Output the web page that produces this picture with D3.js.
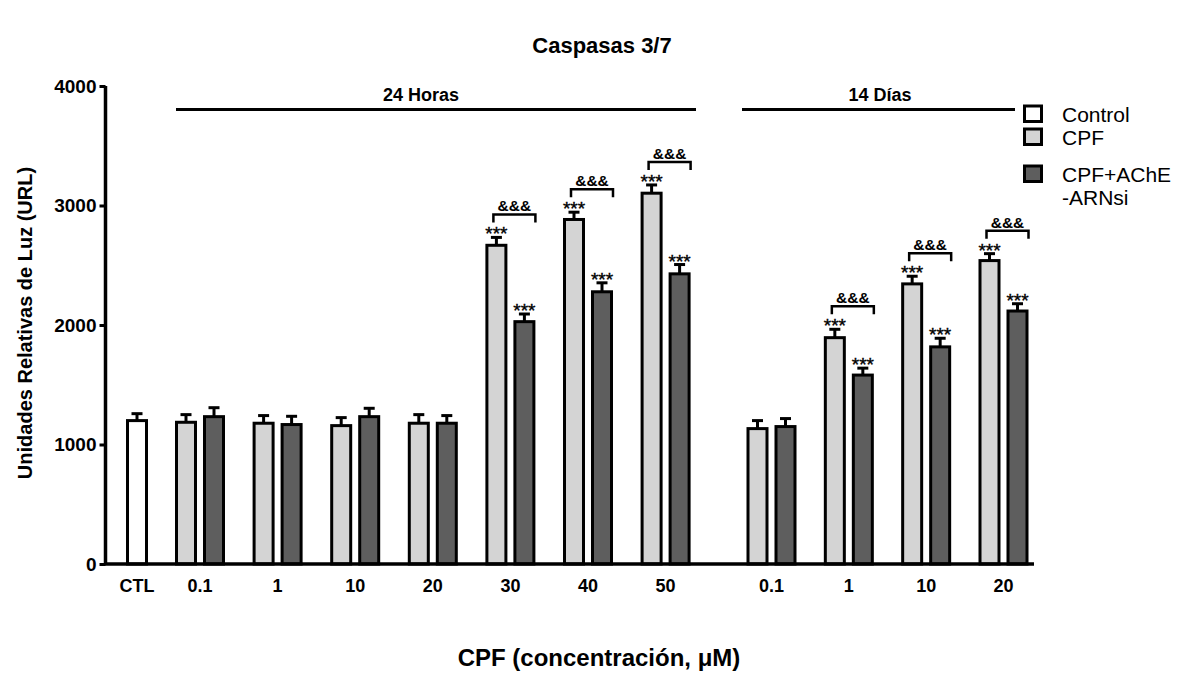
<!DOCTYPE html>
<html>
<head>
<meta charset="utf-8">
<script src="https://cdn.jsdelivr.net/npm/d3@7/dist/d3.min.js"></script>
<style>
  html, body { margin: 0; padding: 0; background: #fff; }
  svg { display: block; }
  text { font-family: Arial, "Liberation Sans", sans-serif; fill: #000; }
</style>
</head>
<body>
<svg id="chart" width="1189" height="680"></svg>
<script>
// Caspasas 3/7 activity (relative light units), mean and SEM
const ctlLabel = "CTL";
const ctlValue = 1200;
const ctlErr = 58;

const horas24 = ["0.1", "1", "10", "20", "30", "40", "50"];
const cpf24 = [1186, 1178, 1158, 1178, 2667, 2883, 3103];
const cpf24Err = [64, 64, 67, 72, 66, 61, 69];
const arnsi24 = [1233, 1167, 1233, 1178, 2028, 2278, 2428];
const arnsi24Err = [75, 69, 70, 64, 64, 75, 78];
const sig24 = [false, false, false, false, true, true, true];

const dias14 = ["0.1", "1", "10", "20"];
const cpf14 = [1133, 1894, 2344, 2539];
const cpf14Err = [67, 70, 64, 58];
const arnsi14 = [1150, 1581, 1817, 2117];
const arnsi14Err = [67, 58, 72, 61];
const sig14 = [false, true, true, true];

const yTicks = [0, 1000, 2000, 3000, 4000];
const legendLabels = [["Control"], ["CPF"], ["CPF+AChE", "-ARNsi"]];
const fills = { control: "#ffffff", cpf: "#d4d4d4", arnsi: "#5e5e5e" };

const svg = d3.select("#chart");

const y = d3.scaleLinear().domain([0, 4000]).range([564, 86]);
const x24 = d3.scalePoint().domain(horas24).range([200, 665.6]);
const x14 = d3.scalePoint().domain(dias14).range([771.5, 1003.5]);
const ctlX = x24(horas24[0]) - 63;
const half = 14;   // offset of each bar from its group centre
const barW = 19;

// assemble bar records
const bars = [{ cx: ctlX, v: ctlValue, e: ctlErr, fill: fills.control, star: false }];
const groups = [];
horas24.forEach((k, i) => {
  const g = x24(k);
  bars.push({ cx: g - half, v: cpf24[i], e: cpf24Err[i], fill: fills.cpf, star: sig24[i] });
  bars.push({ cx: g + half, v: arnsi24[i], e: arnsi24Err[i], fill: fills.arnsi, star: sig24[i] });
  groups.push({ label: k, cx: g, sig: sig24[i], top: cpf24[i] + cpf24Err[i] });
});
dias14.forEach((k, i) => {
  const g = x14(k);
  bars.push({ cx: g - half, v: cpf14[i], e: cpf14Err[i], fill: fills.cpf, star: sig14[i] });
  bars.push({ cx: g + half, v: arnsi14[i], e: arnsi14Err[i], fill: fills.arnsi, star: sig14[i] });
  groups.push({ label: k, cx: g, sig: sig14[i], top: cpf14[i] + cpf14Err[i] });
});

// title
svg.append("text").attr("x", 602).attr("y", 53).attr("text-anchor", "middle")
  .attr("font-size", 22).attr("font-weight", "bold").text("Caspasas 3/7");

// error bars (behind bars)
const eb = svg.append("g").attr("stroke", "#000").attr("stroke-width", 3).attr("fill", "none");
bars.forEach(b => {
  eb.append("line").attr("x1", b.cx).attr("x2", b.cx).attr("y1", y(b.v)).attr("y2", y(b.v + b.e));
  eb.append("line").attr("x1", b.cx - 5.5).attr("x2", b.cx + 5.5).attr("y1", y(b.v + b.e)).attr("y2", y(b.v + b.e));
});

// bars
svg.append("g").selectAll("rect").data(bars).join("rect")
  .attr("x", d => d.cx - barW / 2)
  .attr("y", d => y(d.v))
  .attr("width", barW)
  .attr("height", d => y(0) - y(d.v))
  .attr("fill", d => d.fill)
  .attr("stroke", "#000")
  .attr("stroke-width", 3);

// significance vs control
svg.append("g").selectAll("text").data(bars.filter(b => b.star)).join("text")
  .attr("x", d => d.cx).attr("y", d => y(d.v + d.e) + 3)
  .attr("text-anchor", "middle").attr("font-size", 19)
  .attr("stroke", "#000").attr("stroke-width", 0.4)
  .text("***");

// CPF vs CPF+AChE-ARNsi brackets
const br = svg.append("g");
groups.filter(g => g.sig).forEach(g => {
  const by = y(g.top) - 23;
  const x0 = g.cx - half - 3, x1 = g.cx + half + 11;
  br.append("path")
    .attr("d", `M${x0},${by + 8}V${by}H${x1}V${by + 8}`)
    .attr("fill", "none").attr("stroke", "#000").attr("stroke-width", 2.5);
  br.append("text").attr("x", (x0 + x1) / 2).attr("y", by - 3)
    .attr("text-anchor", "middle").attr("font-size", 15.5).attr("font-weight", "bold").text("&&&");
});

// axes
const yAxis = d3.axisLeft(y).tickValues(yTicks).tickSize(6).tickPadding(3).tickFormat(d3.format("d"));
const gy = svg.append("g").attr("transform", "translate(105.5,0)").call(yAxis);
gy.select(".domain").attr("stroke-width", 3.5).attr("d", `M0,${y(4000)}V${y(0)}`);
gy.selectAll(".tick line").attr("stroke-width", 3);
gy.selectAll(".tick text").attr("font-size", 19).attr("font-weight", "bold")
  .attr("font-family", "Arial, 'Liberation Sans', sans-serif").attr("fill", "#000");

svg.append("line").attr("x1", 104).attr("x2", 1034).attr("y1", y(0)).attr("y2", y(0))
  .attr("stroke", "#000").attr("stroke-width", 3.5);

// category labels
const catLabels = [{ t: ctlLabel, x: ctlX }].concat(groups.map(g => ({ t: g.label, x: g.cx })));
svg.append("g").selectAll("text").data(catLabels).join("text")
  .attr("x", d => d.x).attr("y", 592).attr("text-anchor", "middle")
  .attr("font-size", 18).attr("font-weight", "bold").text(d => d.t);

// period headers
const hdr = svg.append("g");
hdr.append("line").attr("x1", 176).attr("x2", 696).attr("y1", 109.5).attr("y2", 109.5)
  .attr("stroke", "#000").attr("stroke-width", 3);
hdr.append("text").attr("x", 421).attr("y", 101).attr("text-anchor", "middle")
  .attr("font-size", 18).attr("font-weight", "bold").text("24 Horas");
hdr.append("line").attr("x1", 742).attr("x2", 1015).attr("y1", 109.5).attr("y2", 109.5)
  .attr("stroke", "#000").attr("stroke-width", 3);
hdr.append("text").attr("x", 880).attr("y", 101).attr("text-anchor", "middle")
  .attr("font-size", 18).attr("font-weight", "bold").text("14 Días");

// axis titles
svg.append("text").attr("transform", "translate(32,323) rotate(-90)").attr("text-anchor", "middle")
  .attr("font-size", 20).attr("font-weight", "bold").text("Unidades Relativas de Luz (URL)");
svg.append("text").attr("x", 599).attr("y", 666).attr("text-anchor", "middle")
  .attr("font-size", 24).attr("font-weight", "bold").text("CPF (concentración, μM)");

// legend
const legendFills = [fills.control, fills.cpf, fills.arnsi];
const legendY = [106, 129, 166];
const lg = svg.append("g");
legendLabels.forEach((lines, i) => {
  lg.append("rect").attr("x", 1024.5).attr("y", legendY[i]).attr("width", 17).attr("height", 15.5)
    .attr("fill", legendFills[i]).attr("stroke", "#000").attr("stroke-width", 3);
  lines.forEach((t, j) => {
    lg.append("text").attr("x", 1062).attr("y", legendY[i] + 16 + j * 23)
      .attr("font-size", 21).text(t);
  });
});
</script>
</body>
</html>
